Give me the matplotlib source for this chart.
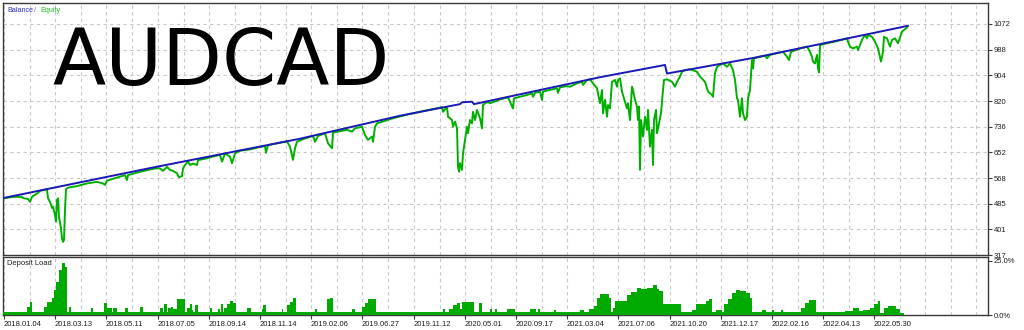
import numpy as np
import matplotlib
matplotlib.use("Agg")
from matplotlib import pyplot as plt

# x axis = trade number, y = account money / deposit load in %
balance_pts = [(0, 503), (147, 601), (297, 697), (397, 772), (457, 810), (459, 816),
               (469, 818), (471, 810), (597, 898), (662, 938), (664, 910), (752, 962),
               (905, 1066)]

equity_pts = [
    (0, 502), (10, 507), (19, 507), (20, 503), (25, 500), (27, 491), (29, 507), (35, 520),
    (37, 527), (40, 529), (44, 532), (45, 502), (47, 491), (49, 471), (50, 475), (52, 448),
    (53, 426), (54, 497), (55, 502), (56, 442), (58, 404), (59, 372), (60, 360), (61, 366),
    (62, 464), (63, 532), (65, 537), (74, 542), (84, 551), (94, 556), (100, 551), (102, 546),
    (104, 560), (112, 568), (122, 578), (124, 562), (125, 578), (137, 589), (152, 600),
    (157, 600), (160, 592), (164, 605), (167, 595), (170, 592), (174, 584), (176, 571),
    (179, 575), (180, 600), (182, 611), (185, 622), (187, 611), (190, 616), (194, 611),
    (195, 627), (204, 633), (209, 638), (217, 644), (219, 622), (222, 649), (227, 638),
    (229, 617), (230, 627), (232, 649), (237, 658), (247, 662), (254, 668), (262, 673),
    (263, 651), (265, 676), (280, 686), (284, 688), (287, 671), (290, 628), (292, 666),
    (294, 687), (302, 698), (310, 706), (312, 687), (315, 706), (322, 715), (325, 682),
    (329, 666), (330, 717), (344, 726), (349, 720), (352, 731), (359, 736), (362, 709),
    (365, 693), (369, 704), (370, 687), (372, 736), (374, 747), (390, 764), (407, 778),
    (424, 790), (439, 800), (440, 785), (444, 801), (445, 769), (447, 764), (449, 758),
    (450, 736), (452, 753), (454, 731), (455, 606), (456, 589), (457, 617), (459, 595),
    (460, 649), (462, 693), (464, 736), (465, 715), (467, 758), (469, 747), (470, 785),
    (472, 758), (474, 791), (477, 764), (479, 731), (480, 807), (484, 818), (487, 813),
    (494, 821), (497, 826), (505, 832), (507, 818), (510, 796), (511, 829), (524, 840),
    (529, 845), (530, 834), (532, 847), (537, 851), (539, 824), (540, 851), (554, 862),
    (555, 847), (557, 865), (564, 869), (567, 867), (574, 878), (579, 883), (580, 873),
    (584, 889), (587, 891), (590, 878), (594, 862), (595, 845), (597, 813), (599, 856),
    (600, 780), (602, 824), (604, 769), (605, 807), (607, 796), (609, 883), (612, 889),
    (614, 867), (615, 889), (617, 894), (619, 851), (622, 818), (624, 796), (625, 813),
    (627, 758), (629, 867), (630, 856), (632, 824), (634, 802), (635, 758), (636, 802),
    (637, 595), (638, 758), (640, 704), (642, 769), (644, 726), (645, 791), (647, 671),
    (649, 726), (650, 611), (651, 758), (653, 791), (654, 715), (656, 747), (658, 780),
    (660, 856), (661, 889), (664, 891), (669, 883), (672, 867), (674, 883), (677, 900),
    (679, 916), (682, 921), (687, 924), (694, 916), (697, 900), (702, 883), (705, 851),
    (709, 840), (710, 834), (712, 911), (714, 932), (717, 938), (720, 943), (724, 932),
    (727, 943), (730, 921), (732, 889), (734, 829), (735, 823), (737, 769), (739, 829),
    (740, 780), (742, 758), (744, 769), (745, 829), (747, 856), (749, 954), (750, 927),
    (751, 960), (757, 965), (762, 968), (764, 960), (767, 971), (777, 979), (780, 981),
    (784, 965), (786, 954), (788, 981), (797, 992), (804, 998), (807, 981), (809, 965),
    (810, 949), (812, 943), (814, 971), (815, 927), (816, 914), (817, 1003), (824, 1009),
    (834, 1016), (844, 1025), (845, 1014), (847, 998), (850, 992), (854, 998), (855, 987),
    (857, 1003), (859, 1020), (862, 1036), (864, 1025), (865, 1036), (869, 1030),
    (872, 1014), (875, 992), (878, 949), (880, 981), (881, 1030), (884, 1025), (887, 998),
    (889, 1020), (892, 1025), (895, 1009), (899, 1047), (904, 1060)]

# deposit load, value holds from this trade until the next one
load_pts = [
    (0, 1.6), (24, 3.9), (27, 5.9), (29, 1.6), (41, 3.9), (44, 6.2), (49, 7.7), (51, 11.6),
    (53, 15.1), (56, 20.8), (59, 23.9), (60, 24.3), (62, 22.3), (64, 1.6), (66, 3.5),
    (68, 1.6), (88, 3.4), (90, 1.6), (101, 5.4), (104, 3.1), (107, 3.4), (109, 1.6),
    (110, 3.1), (114, 1.6), (122, 3.4), (125, 1.6), (137, 3.9), (140, 1.6), (157, 3.1),
    (160, 1.6), (161, 4.9), (164, 1.6), (165, 3.1), (168, 3.5), (170, 2.6), (174, 7.2),
    (182, 1.6), (184, 3.1), (187, 4.9), (189, 2.3), (190, 1.6), (192, 4.6), (195, 1.6),
    (207, 3.1), (209, 1.6), (215, 2.6), (217, 1.6), (218, 5.1), (220, 1.6), (221, 3.1),
    (224, 5.1), (227, 6.6), (230, 5.7), (233, 1.6), (244, 3.1), (248, 1.6), (259, 2.6),
    (260, 4.6), (263, 1.6), (279, 2.6), (280, 1.6), (284, 4.6), (287, 6.2), (290, 8.0),
    (293, 1.6), (312, 2.6), (314, 1.6), (324, 7.4), (327, 7.7), (330, 1.6), (349, 2.6),
    (352, 1.6), (359, 3.9), (362, 5.7), (365, 7.4), (373, 1.6), (440, 2.6), (442, 1.6),
    (446, 2.9), (450, 4.5), (454, 5.7), (457, 2.6), (459, 6.0), (471, 1.6), (476, 5.7),
    (479, 1.6), (487, 2.6), (489, 1.6), (492, 2.6), (494, 1.6), (504, 2.6), (512, 1.6),
    (527, 2.6), (533, 1.6), (535, 2.6), (537, 1.6), (551, 2.2), (553, 1.6), (577, 2.2),
    (581, 1.6), (586, 2.6), (591, 4.2), (594, 8.0), (597, 9.5), (601, 9.9), (606, 8.0),
    (608, 1.6), (610, 3.4), (612, 6.5), (624, 9.1), (628, 10.6), (634, 12.6), (638, 11.9),
    (644, 12.6), (650, 13.7), (654, 12.2), (656, 11.1), (660, 4.9), (678, 1.6), (689, 2.3),
    (693, 4.9), (703, 6.5), (706, 7.5), (709, 1.6), (713, 2.2), (719, 1.6), (721, 4.9),
    (725, 7.5), (729, 10.3), (733, 11.4), (737, 11.1), (743, 10.3), (747, 8.0), (749, 1.6),
    (759, 2.2), (763, 1.6), (769, 2.2), (771, 1.6), (778, 2.2), (780, 1.6), (798, 3.4),
    (802, 5.7), (806, 6.8), (810, 6.9), (813, 1.2), (842, 1.8), (850, 3.4), (856, 1.8),
    (860, 2.2), (867, 3.4), (871, 4.9), (875, 6.5), (877, 1.1), (881, 3.4), (885, 4.2),
    (893, 2.9), (897, 1.1), (901, 0.0)]

date_ticks = [1, 52, 103, 155, 206, 257, 308, 359, 411, 462, 513, 564, 615, 667, 718,
              769, 820, 871]
date_labels = ['2018.01.04', '2018.03.13', '2018.05.11', '2018.07.05', '2018.09.14',
               '2018.11.14', '2019.02.06', '2019.06.27', '2019.11.12', '2020.05.01',
               '2020.09.17', '2021.03.04', '2021.07.06', '2021.10.20', '2021.12.17',
               '2022.02.16', '2022.04.13', '2022.05.30']
money_ticks = [317, 401, 485, 568, 652, 736, 820, 904, 988, 1072]

bal_x, bal_y = zip(*balance_pts)
eq_x, eq_y = zip(*equity_pts)
ld_x, ld_y = zip(*load_pts)

W, H = 1024, 330
fig = plt.figure(figsize=(W / 100, H / 100), dpi=100)
ax = fig.add_axes([3 / W, 1 - 255 / H, 985 / W, 252 / H])
ax2 = fig.add_axes([3 / W, 1 - 315 / H, 985 / W, 58 / H])

small = {'family': 'Liberation Sans', 'size': 5.5}
grid_kw = dict(color='#c8c8c8', linestyle=(0, (3, 3)), linewidth=0.8)

# half steps between date ticks -> grid lines
minor = [(a + b) / 2 for a, b in zip(date_ticks[:-1], date_ticks[1:])]
minor += [date_ticks[-1] + 25.6 * k for k in (1, 2, 3, 4)]

for a in (ax, ax2):
    a.set_xlim(0, 985)
    a.set_xticks(date_ticks)
    a.set_xticks(minor, minor=True)
    a.grid(True, axis='x', which='both', **grid_kw)
    a.set_axisbelow(True)
    for s in a.spines.values():
        s.set_color('#3a3a3a')
        s.set_linewidth(1)
    a.yaxis.tick_right()
    a.tick_params(axis='y', length=3, width=0.8, pad=1, colors='#3a3a3a', labelcolor='#202020')
    a.tick_params(axis='x', which='minor', length=0)

# main panel
ax.set_ylim(317, 1140.5)
ax.set_yticks(money_ticks)
ax.set_yticklabels([str(v) for v in money_ticks], fontdict=small)
ax.grid(True, axis='y', **grid_kw)
ax.tick_params(axis='x', which='both', length=0, labelbottom=False)
ax.plot(eq_x, eq_y, color='#00b000', lw=1.4, zorder=3)
ax.plot(bal_x, bal_y, color='#1a1ab4', lw=1.4, zorder=4)

fig.text(7 / W, 1 - 10 / H, 'Balance', color='#3030c8', va='center', family='Liberation Sans', size=5.2)
fig.text(34.5 / W, 1 - 10 / H, '/', color='#707070', va='center', family='Liberation Sans', size=5.2)
fig.text(40 / W, 1 - 10 / H, 'Equity', color='#20c020', va='center', family='Liberation Sans', size=5.2)

fig.text(52 / W, 1 - 85 / H, 'AUDCAD', color='black', va='baseline', ha='left',
         family='DejaVu Sans', size=56)

# deposit load panel
ax2.set_ylim(0, 26.85)
ax2.set_yticks([0, 25])
ax2.set_yticklabels(['0.0%', '25.0%'], fontdict=small)
ax2.fill_between(ld_x, ld_y, step='post', color='#00aa00', lw=0, zorder=3)
ax2.set_xticklabels(date_labels, fontdict=small, ha='left')
ax2.tick_params(axis='x', which='major', length=3, width=0.8, pad=1, colors='#3a3a3a',
                labelcolor='#202020')
ax2.text(4, 26.85 - 1.6, 'Deposit Load', color='#202020', va='top', ha='left',
         family='Liberation Sans', size=5.4)

fig.savefig('out.png', dpi=100)
